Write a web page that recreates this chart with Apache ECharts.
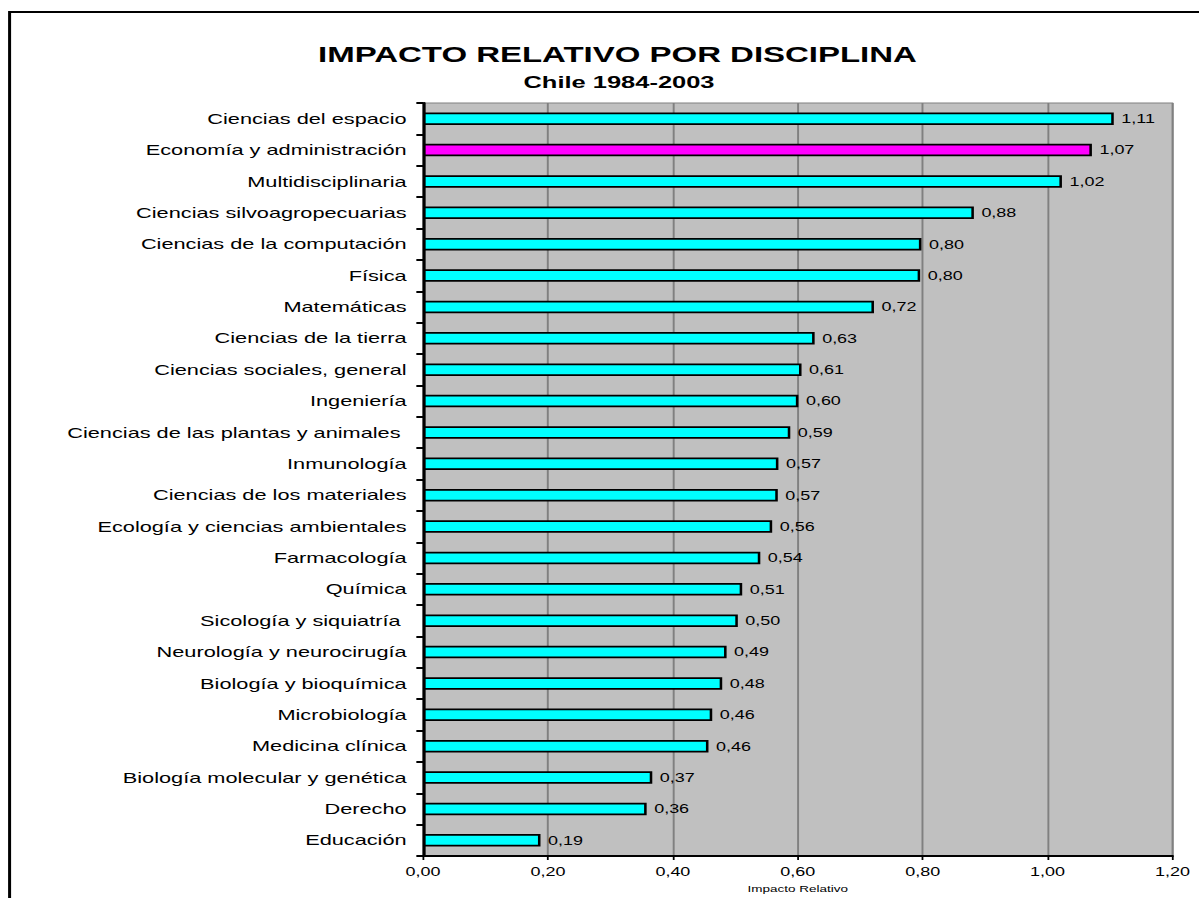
<!DOCTYPE html>
<html>
<head>
<meta charset="utf-8">
<script src="https://cdn.jsdelivr.net/npm/echarts@6/dist/echarts.min.js"></script>
<style>
html, body { margin: 0; padding: 0; background: #fff; overflow: hidden; }
#wrap { width: 1199px; height: 898px; overflow: hidden; position: relative; }
#chart { width: 800px; height: 898px; transform: scaleX(1.49875); transform-origin: 0 0; position: absolute; left: 0; top: 0; }
</style>
</head>
<body>
<div id="wrap"><div id="chart"></div></div>
<script>
const titleText = 'IMPACTO RELATIVO POR DISCIPLINA';
const subtitleText = 'Chile 1984-2003';
const axisName = 'Impacto Relativo';
const categories = [
  'Ciencias del espacio',
  'Economía y administración',
  'Multidisciplinaria',
  'Ciencias silvoagropecuarias',
  'Ciencias de la computación',
  'Física',
  'Matemáticas',
  'Ciencias de la tierra',
  'Ciencias sociales, general',
  'Ingeniería',
  'Ciencias de las plantas y animales ',
  'Inmunología',
  'Ciencias de los materiales',
  'Ecología y ciencias ambientales',
  'Farmacología',
  'Química',
  'Sicología y siquiatría ',
  'Neurología y neurocirugía',
  'Biología y bioquímica',
  'Microbiología',
  'Medicina clínica',
  'Biología molecular y genética',
  'Derecho',
  'Educación'
];
const impacto = [1.106, 1.071, 1.023, 0.882, 0.798, 0.796, 0.722, 0.627, 0.606, 0.601, 0.588, 0.569, 0.568, 0.559, 0.540, 0.511, 0.504, 0.486, 0.479, 0.463, 0.457, 0.367, 0.358, 0.188];
const highlighted = 'Economía y administración';
const axisMin = 0, axisMax = 1.2, axisStep = 0.2;

const fmt = v => Number(v).toFixed(2).replace('.', ',');
const FONT = '"Liberation Sans", Arial, sans-serif';

const chart = echarts.init(document.getElementById('chart'), null, { renderer: 'svg' });
chart.setOption({
  backgroundColor: '#ffffff',
  animation: false,
  textStyle: { fontFamily: FONT },
  title: [
    { text: titleText, left: 407, top: 39, textAlign: 'center',
      textStyle: { fontFamily: FONT, fontSize: 22, fontWeight: 'bold', color: '#000' } },
    { text: subtitleText, left: 408, top: 69, textAlign: 'center',
      textStyle: { fontFamily: FONT, fontSize: 17, fontWeight: 'bold', color: '#000' } }
  ],
  graphic: [
    { type: 'rect', silent: true, z: 100,
      shape: { x: 6.4, y: 12, width: 3000, height: 3000 },
      style: { fill: 'none', stroke: '#000', lineWidth: 2 } }
  ],
  grid: {
    left: 282.3, right: 17.7, top: 103, bottom: 41,
    show: true, backgroundColor: '#c0c0c0', borderColor: '#808080', borderWidth: 1,
    containLabel: false
  },
  xAxis: {
    type: 'value', min: axisMin, max: axisMax, interval: axisStep,
    name: axisName, nameLocation: 'middle', nameGap: 28,
    nameTextStyle: { fontFamily: FONT, fontSize: 9, color: '#000' },
    axisLine: { show: true, lineStyle: { color: '#000', width: 2 } },
    axisTick: { show: true, length: 4, lineStyle: { color: '#000', width: 1.2 } },
    axisLabel: { formatter: fmt, fontFamily: FONT, fontSize: 12, color: '#000', margin: 10 },
    splitLine: { show: true, lineStyle: { color: '#808080', width: 1.3 } }
  },
  yAxis: {
    type: 'category', data: categories, inverse: true,
    axisLine: { show: true, lineStyle: { color: '#000', width: 2 } },
    axisTick: { show: true, length: 4.5, alignWithLabel: false, lineStyle: { color: '#000', width: 2 } },
    axisLabel: { fontFamily: FONT, fontSize: 14.5, color: '#000', margin: 11 },
    splitLine: { show: false }
  },
  series: [{
    type: 'bar',
    data: impacto,
    barWidth: 12.5,
    itemStyle: {
      borderColor: '#000', borderWidth: 1.7,
      color: p => (categories[p.dataIndex] === highlighted ? '#ff00ff' : '#00ffff')
    },
    label: {
      show: true, position: 'right', distance: 5,
      formatter: p => fmt(p.value),
      fontFamily: FONT, fontSize: 12, color: '#000'
    }
  }]
});
</script>
</body>
</html>
